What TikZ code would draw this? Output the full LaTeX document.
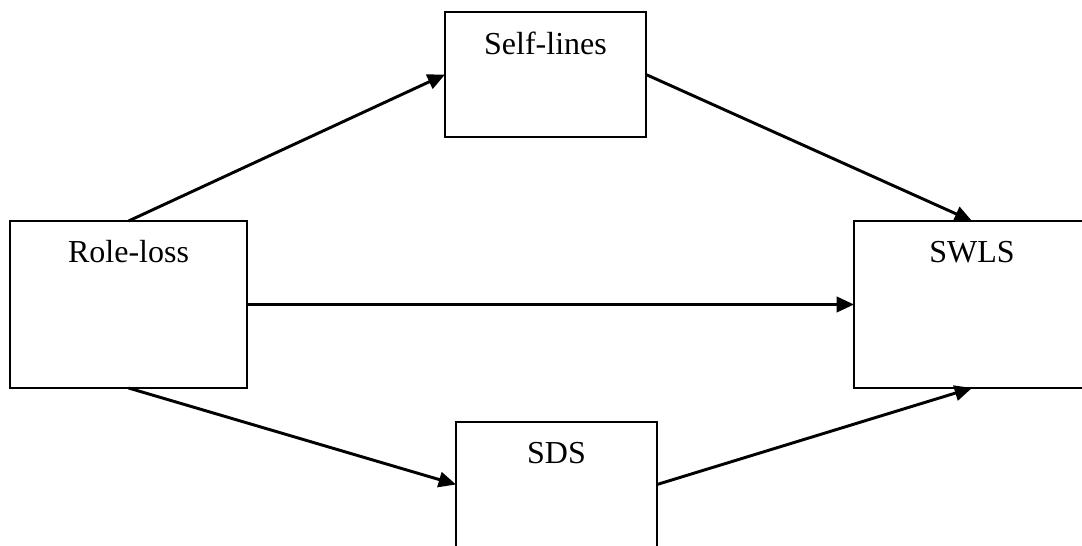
\documentclass[tikz,border=0pt]{standalone}
\usepackage{fontspec}
\setmainfont{Liberation Serif}
\usetikzlibrary{arrows.meta}
\begin{document}
\begin{tikzpicture}[x=0.75pt,y=-0.75pt,
 box/.style={draw, line width=1.5pt, inner sep=0pt, outer sep=0pt},
 conn/.style={line width=2.2pt, -{Triangle[length=13pt,width=11.5pt]}},
 lab/.style={font=\fontsize{24}{28}\selectfont, anchor=base, inner sep=0pt}]
\useasboundingbox (0,0) rectangle (1082,546);
\clip (0,0) rectangle (1082,546);
\node[box, minimum width=177.75pt, minimum height=125.25pt, label={[lab, yshift=-31pt]north:Role-loss}] (rl) at (128.5,304.5) {};
\node[box, minimum width=150.75pt, minimum height=93.75pt, label={[lab, yshift=-32pt]north:Self-lines}] (sl) at (545.5,74.5) {};
\node[box, minimum width=177pt, minimum height=125.25pt, label={[lab, yshift=-31pt]north:SWLS}] (sw) at (972,304.5) {};
\node[box, minimum width=150.75pt, minimum height=93.75pt, label={[lab, yshift=-31pt]north:SDS}] (sds) at (556.5,484.5) {};
\draw[conn] (rl.north) -- (sl.west);
\draw[conn] (sl.east) -- (sw.north);
\draw[conn] (rl.east) -- (sw.west);
\draw[conn] (rl.south) -- (sds.west);
\draw[conn] (sds.east) -- (sw.south);
\end{tikzpicture}
\end{document}
